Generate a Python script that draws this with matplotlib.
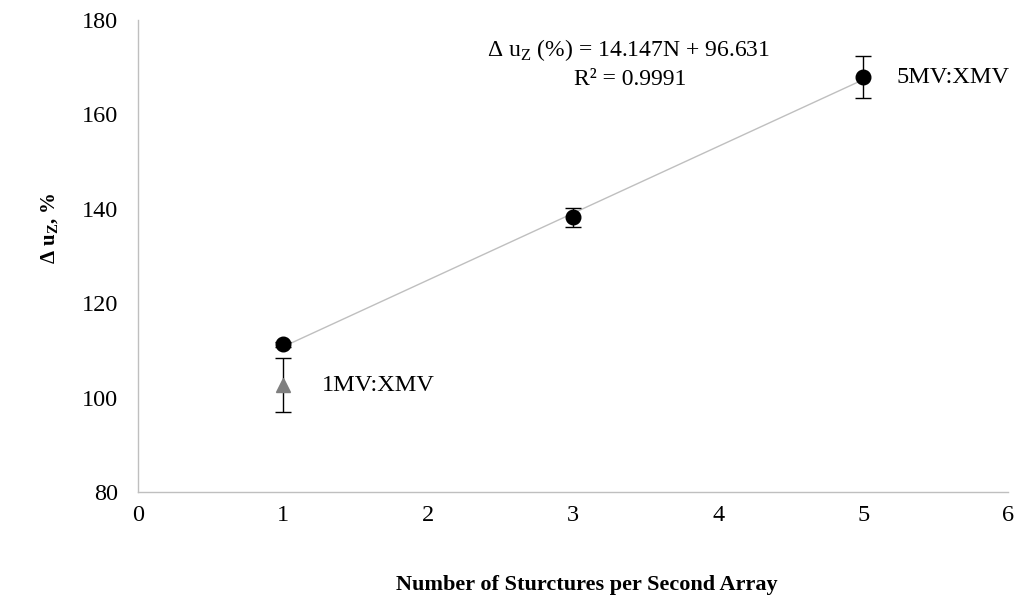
import matplotlib
matplotlib.use("Agg")
import matplotlib.pyplot as plt
import numpy as np

# data
n_structures = [1, 3, 5]
delta_uz = [111.3, 138.2, 167.9]
delta_uz_err = [0.5, 2.0, 4.4]

single_n = [1]
single_uz = [102.7]
single_err = [5.8]

fit_slope = 14.147
fit_intercept = 96.631
fit_r2 = 0.9991

x_ticks = [0, 1, 2, 3, 4, 5, 6]
y_ticks = [80, 100, 120, 140, 160, 180]

plt.rcParams["font.family"] = ["Liberation Serif", "DejaVu Serif"]
plt.rcParams["mathtext.fontset"] = "custom"
plt.rcParams["mathtext.rm"] = "Liberation Serif"
plt.rcParams["mathtext.bf"] = "Liberation Serif:bold"

fig = plt.figure(figsize=(10.28, 6.04), dpi=100)
ax = fig.add_axes([0.134, 0.185, 0.847, 0.782])

# trend line through the circle series
xs = np.array([n_structures[0], n_structures[-1]])
ax.plot(xs, fit_slope * xs + fit_intercept, color="#bfbfbf", lw=1, zorder=1)

ax.errorbar(n_structures, delta_uz, yerr=delta_uz_err, fmt="o", color="black",
            ms=10.5, ecolor="black", elinewidth=1, capsize=6, capthick=1, zorder=3)
ax.errorbar(single_n, single_uz, yerr=single_err, fmt="^", color="#7f7f7f",
            ms=10, ecolor="black", elinewidth=1, capsize=6, capthick=1, zorder=3)

ax.text(1.27, single_uz[0], "1MV:XMV", fontsize=17.5, va="center", ha="left")
ax.text(5.23, delta_uz[2], "5MV:XMV", fontsize=17.5, va="center", ha="left")

eq = r"$\Delta$ u$_\mathrm{Z}$ (%) = " + f"{fit_slope:.3f}N + {fit_intercept:.3f}"
ax.text(3.38, 173.6, eq, fontsize=17, ha="center", va="center")
ax.text(3.39, 167.3, f"R² = {fit_r2:.4f}", fontsize=17, ha="center", va="center")

ax.set_xlim(0, 6)
ax.set_ylim(80, 180)
ax.set_xticks(x_ticks)
ax.set_yticks(y_ticks)
ax.tick_params(axis="both", length=0, labelsize=17.5)
ax.tick_params(axis="y", pad=14)
ax.tick_params(axis="x", pad=9)

for side in ["top", "right"]:
    ax.spines[side].set_visible(False)
for side in ["left", "bottom"]:
    ax.spines[side].set_color("#bfbfbf")
    ax.spines[side].set_linewidth(1)

ax.set_xlabel("Number of Sturctures per Second Array", fontsize=16, fontweight="bold", va="center")
ax.xaxis.set_label_coords(0.516, -0.197)
ax.set_ylabel(r"$\mathbf{\Delta}$ u$_\mathbf{Z}$, %", fontsize=15, fontweight="bold", va="center")
ax.yaxis.set_label_coords(-0.100, 0.56)

fig.savefig("out.png", dpi=100)
